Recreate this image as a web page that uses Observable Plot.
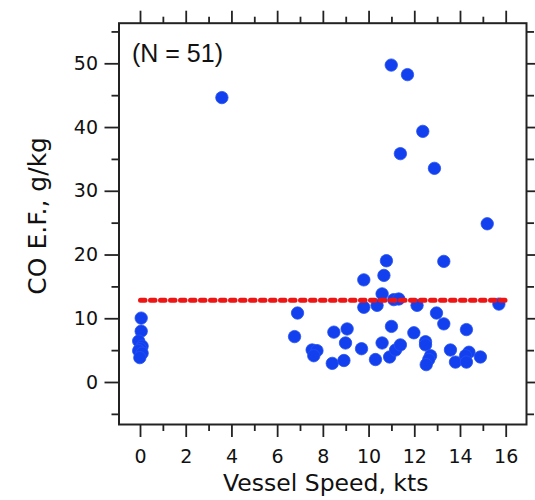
<!DOCTYPE html>
<html><head><meta charset="utf-8">
<script src="https://cdn.jsdelivr.net/npm/d3@7"></script>
<script src="https://cdn.jsdelivr.net/npm/@observablehq/plot@0.6"></script>
<style>body{margin:0;background:#fff}</style>
</head><body><div id="chart"></div>
<script>
// Vessel speed (kts) and CO emission factor (g/kg)
const speed = [0.03, 0.03, -0.08, 0.07, 0.0, -0.08, 0.07, -0.03,
  3.56, 6.87, 6.74, 7.51, 7.72, 7.58, 8.46, 8.39, 8.90, 8.97, 9.04, 9.67,
  9.77, 9.77, 10.28, 10.35, 10.57, 10.57, 10.65, 10.76, 10.97, 10.98,
  10.90, 11.08, 11.30, 11.16, 11.37, 11.37, 11.68, 11.96, 12.10, 12.35,
  12.47, 12.47, 12.69, 12.61, 12.50, 12.86, 12.95, 13.27, 13.27, 13.56,
  13.78, 14.26, 14.37, 14.22, 14.26, 14.87, 15.17, 15.68];
const coEF = [10.1, 8.05, 6.5, 5.7, 5.3, 5.0, 4.6, 3.9,
  44.7, 10.9, 7.2, 5.1, 5.0, 4.2, 7.9, 3.0, 3.45, 6.2, 8.4, 5.3,
  16.1, 11.8, 3.6, 12.1, 13.9, 6.2, 16.8, 19.1, 49.8, 8.8,
  4.0, 13.0, 13.1, 5.1, 5.9, 35.9, 48.3, 7.8, 12.1, 39.4,
  6.4, 5.9, 4.2, 3.6, 2.8, 33.6, 10.9, 19.0, 9.2, 5.1,
  3.2, 8.3, 4.75, 4.2, 3.2, 4.0, 24.9, 12.3];
// dotted reference line
const refX = [0, 16];
const refY = 12.9;
const noteText = "(N = 51)";
const xTitle = "Vessel Speed, kts";
const yTitle = "CO E.F., g/kg";
const xMajor = [0, 2, 4, 6, 8, 10, 12, 14, 16];
const xMinor = [1, 3, 5, 7, 9, 11, 13, 15];
const yMajor = [0, 10, 20, 30, 40, 50];
const yMinor = [-5, 5, 15, 25, 35, 45, 55];

const points = speed.map((s, i) => ({s, co: coEF[i]}));
const refLine = refX.map(x => ({x, y: refY}));
const blank = () => "";
const tickCol = "#222";

const chart = Plot.plot({
  width: 535, height: 500,
  marginLeft: 118.5, marginRight: 9, marginTop: 22.7, marginBottom: 76,
  style: {fontFamily: "DejaVu Sans", fontSize: "19px", color: "#111", background: "#fff", overflow: "visible"},
  x: {domain: [-0.941, 16.888]},
  y: {domain: [-6.59, 56.37]},
  marks: [
    Plot.axisX(xMajor, {anchor: "bottom", tickSize: 13, tickPadding: 12, fontSize: 19, label: null, stroke: tickCol, strokeWidth: 1.8}),
    Plot.axisX(xMinor, {anchor: "bottom", tickSize: 7, tickFormat: blank, label: null, stroke: tickCol, strokeWidth: 1.8}),
    Plot.axisX(xMajor, {anchor: "top", tickSize: 13, tickFormat: blank, label: null, stroke: tickCol, strokeWidth: 1.8}),
    Plot.axisX(xMinor, {anchor: "top", tickSize: 7, tickFormat: blank, label: null, stroke: tickCol, strokeWidth: 1.8}),
    Plot.axisY(yMajor, {anchor: "left", tickSize: 14, tickPadding: 7, fontSize: 19, label: null, stroke: tickCol, strokeWidth: 1.8}),
    Plot.axisY(yMinor, {anchor: "left", tickSize: 7, tickFormat: blank, label: null, stroke: tickCol, strokeWidth: 1.8}),
    Plot.axisY(yMajor, {anchor: "right", tickSize: 13, tickFormat: blank, label: null, stroke: tickCol, strokeWidth: 1.8}),
    Plot.axisY(yMinor, {anchor: "right", tickSize: 7, tickFormat: blank, label: null, stroke: tickCol, strokeWidth: 1.8}),
    Plot.frame({stroke: "#222", strokeWidth: 2}),
    Plot.dot(points, {x: "s", y: "co", r: 6.2, fill: "#1240ee", stroke: "#2450f2", strokeWidth: 0.8}),
    Plot.line(refLine, {x: "x", y: "y", stroke: "#ee1515", strokeWidth: 5, strokeDasharray: "4.5,5.5"}),
    Plot.text([noteText], {frameAnchor: "top-left", textAnchor: "start", lineAnchor: "top", dx: 13, dy: 21, fontSize: 25, fontFamily: "Liberation Sans", fill: "#111"}),
    Plot.text([xTitle], {frameAnchor: "bottom", textAnchor: "middle", lineAnchor: "middle", dx: 3, dy: 59, fontSize: 23.5, fill: "#111"}),
    Plot.text([yTitle], {frameAnchor: "left", textAnchor: "middle", lineAnchor: "middle", rotate: -90, dx: -81, dy: -8, fontSize: 25, fill: "#111"})
  ]
});
document.getElementById("chart").append(chart);
</script>
</body></html>
